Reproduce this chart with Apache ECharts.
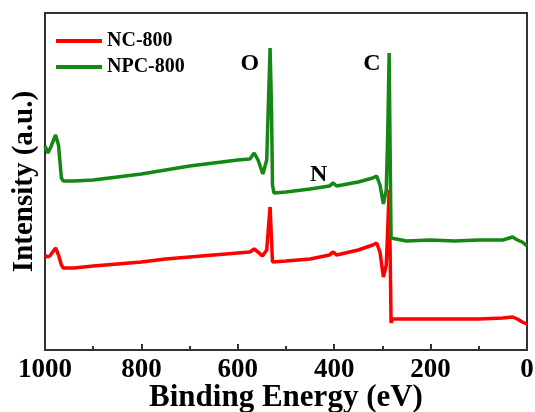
<!DOCTYPE html>
<html>
<head>
<meta charset="utf-8">
<script src="https://cdn.jsdelivr.net/npm/echarts@6/dist/echarts.min.js"></script>
<style>html,body{margin:0;padding:0;background:#fff}#c{width:535px;height:412px}</style>
</head>
<body>
<div id="c"></div>
<script>
// Binding energy (eV) and intensity (a.u.)
const ncEnergy = [1000,995,990,978,972,966,962,940,900,850,800,750,700,650,600,575,566,558,549,540,536,533,530,528,500,450,410,402,395,350,320,312,305,298,292,289,286,284,282,279,200,100,50,30,20,10,0];
const ncIntensity = [95,93,94,102,95,85,82,82,84,86,88,91,93,95,97,98,101,98,94,100,125,143,110,88,89,91,95,98,95,100,105,107,98,73,85,120,160,100,27,31,31,31,32,33,31,28,26];

const npcEnergy = [1000,994,988,978,972,966,962,940,900,850,800,750,700,650,600,575,566,558,548,540,536,533,530,528,525,500,450,410,402,395,350,320,312,305,298,292,289,286,284,282,279,250,200,150,100,50,30,20,10,0];
const npcIntensity = [204,197,203,215,205,172,169,169,170,173,176,180,184,187,190,191,197,190,176,190,255,302,240,165,157,158,161,164,167,164,168,172,174,165,146,160,215,297,200,112,110,109,110,109,110,110,113,110,108,104];

const peakLabels = ['O','N','C'];
const peakEnergy = [575,432,322];
const peakLabelY = [286,175,286];

const seriesNames = ['NC-800','NPC-800'];
const xTicks = [0,200,400,600,800,1000];

const font = '"Liberation Serif","Times New Roman",serif';
const pair = (xs, ys) => xs.map((x,i)=>[x, ys[i]]);

const chart = echarts.init(document.getElementById('c'), null, {renderer:'canvas'});
chart.setOption({
  animation:false,
  backgroundColor:'#fff',
  grid:{left:45,right:8,top:13,bottom:62,show:true,borderColor:'#333',borderWidth:2,backgroundColor:'transparent',outerBoundsMode:'none',containLabel:false},
  legend:{
    data:seriesNames, orient:'vertical', left:51, top:26,
    icon:'rect', itemWidth:46, itemHeight:4, itemGap:6,
    textStyle:{fontFamily:font,fontWeight:'bold',fontSize:20,color:'#000',lineHeight:19}
  },
  xAxis:{
    type:'value', inverse:true, min:xTicks[0], max:xTicks[xTicks.length-1], interval:200,
    name:'Binding Energy (eV)', nameLocation:'middle', nameGap:32, nameMoveOverlap:false,
    nameTextStyle:{fontFamily:font,fontWeight:'bold',fontSize:31,color:'#000'},
    axisLine:{lineStyle:{color:'#333',width:2}},
    axisTick:{inside:true,length:6,lineStyle:{color:'#333',width:2}},
    minorTick:{show:true,splitNumber:2,length:4,lineStyle:{color:'#333',width:2}},
    axisLabel:{fontFamily:font,fontWeight:'bold',fontSize:27,color:'#000',margin:7,lineHeight:27,formatter:v=>String(v)},
    splitLine:{show:false}
  },
  yAxis:{
    type:'value', min:0, max:337,
    name:'Intensity (a.u.)', nameLocation:'middle', nameGap:6, nameMoveOverlap:false,
    nameTextStyle:{fontFamily:font,fontWeight:'bold',fontSize:29,color:'#000'},
    axisLine:{show:true,lineStyle:{color:'#333',width:2}},
    axisTick:{show:false}, axisLabel:{show:false}, splitLine:{show:false}
  },
  series:[
    {name:seriesNames[0], type:'line', data:pair(ncEnergy,ncIntensity), symbol:'none',
     lineStyle:{color:'#ff0000',width:3.5}, itemStyle:{color:'#ff0000'}, z:2},
    {name:seriesNames[1], type:'line', data:pair(npcEnergy,npcIntensity), symbol:'none',
     lineStyle:{color:'#148714',width:3.5}, itemStyle:{color:'#148714'}, z:3},
    {name:'peaks', type:'scatter', symbolSize:0, silent:true, z:5,
     itemStyle:{opacity:1},
     data:peakLabels.map((t,i)=>[peakEnergy[i],peakLabelY[i],t]),
     label:{show:true,position:'inside',formatter:p=>p.value[2],opacity:1,
       fontFamily:font,fontWeight:'bold',fontSize:24,color:'#000'}}
  ]
});
</script>
</body>
</html>
